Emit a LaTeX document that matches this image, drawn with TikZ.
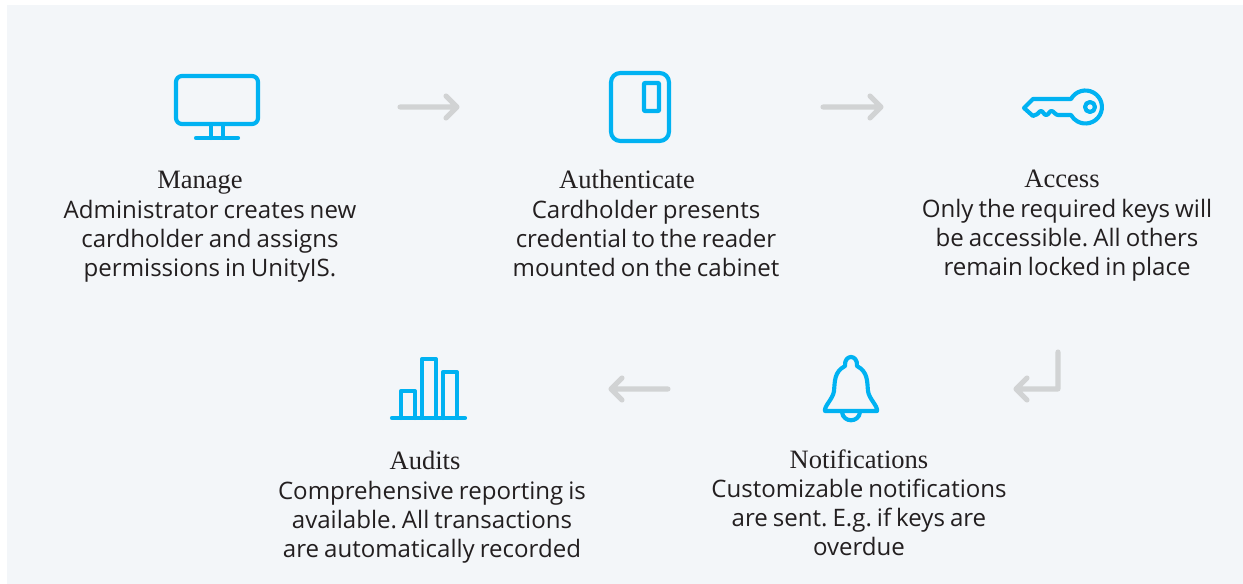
\documentclass[tikz,border=0pt]{standalone}
\usepackage{fontspec}
\setmainfont{Liberation Serif}
\newfontfamily\bodyfont[WordSpace=0.8]{Open Sans}
\definecolor{bgpanel}{HTML}{F3F6F9}
\definecolor{iconblue}{HTML}{00B2F2}
\definecolor{arrowgrey}{HTML}{D1D3D4}
\definecolor{inktext}{HTML}{231F20}
\tikzset{
 icon/.style={draw=iconblue,line width=3.1pt,line join=round,line cap=round},
 flow/.style={draw=arrowgrey,line width=3.8pt,line cap=round,line join=round},
 titletext/.style={font=\fontsize{19.9}{21}\selectfont,inner sep=0pt,text=inktext},
 bodytext/.style={font=\frenchspacing\bodyfont\fontsize{18.05}{21.75}\selectfont,align=center,inner sep=0pt,text=inktext},
}
\begin{document}
\begin{tikzpicture}[x=0.75pt,y=-0.75pt]
\useasboundingbox (0,0) rectangle (1243,584);
\fill[bgpanel] (7,5) rectangle (1243,584);
% monitor
\draw[icon,rounded corners=4.5pt] (176,76) rectangle (258,124);
\draw[icon] (211,126) -- (211,138) (223,126) -- (223,138) (196,138) -- (238,138);
% card
\draw[icon,rounded corners=7pt] (611,73) rectangle (669,141);
\draw[icon,rounded corners=0.5pt] (644,83) rectangle (659,111);
% key
\draw[icon] (1024,108) -- (1033,99) -- (1071,99) arc[start angle=-151,end angle=151,radius=16.5] -- (1058,115)
  .. controls (1055,115) and (1054,111) .. (1051.5,111) .. controls (1049,111) and (1049,115) .. (1046,115)
  .. controls (1044,115) and (1043,111) .. (1041,111) .. controls (1039,111) and (1038,115) .. (1035,115)
  -- (1033,116) -- cycle;
\draw[icon] (1090,107) circle[radius=5];
% bell
\draw[icon] (825,411) -- (877,411) .. controls (878,406) and (869,399) .. (868,391)
  .. controls (867,381) and (868,372) .. (857,366)
  .. controls (858,354) and (844,354) .. (845,366)
  .. controls (834,372) and (835,381) .. (834,391)
  .. controls (833,399) and (824,406) .. (825,411) -- cycle;
\draw[icon] (842,412) .. controls (843,423) and (859,423) .. (860,412);
% bars
\draw[icon] (392,418) -- (465,418);
\draw[icon] (401,418) -- (401,391) -- (415,391) -- (415,418);
\draw[icon] (422,418) -- (422,359) -- (436,359) -- (436,418);
\draw[icon] (443,418) -- (443,372) -- (457,372) -- (457,418);
% texts
\node[titletext] (t1) at (200,183) {Manage};
\node[bodytext] (b1) at (210,241) {Administrator creates new\\cardholder and assigns\\permissions in UnityIS.};
\node[titletext] (t2) at (627,179) {Authenticate};
\node[bodytext] (b2) at (646,238) {Cardholder presents\\credential to the reader\\mounted on the cabinet};
\node[titletext] (t3) at (1062,179) {Access};
\node[bodytext] (b3) at (1067,240) {Only the required keys will\\be accessible. All others\\remain locked in place};
\node[titletext] (t4) at (859,459) {Notifications};
\node[bodytext] (b4) at (859,517) {Customizable notifications\\are sent. E.g. if keys are\\overdue};
\node[titletext] (t5) at (425,460) {Audits};
\node[bodytext] (b5) at (432,522) {Comprehensive reporting is\\available. All transactions\\are automatically recorded};
% connectors
\coordinate (a1s) at (400,107); \coordinate (a1e) at (457,107);
\coordinate (a2s) at (823,107); \coordinate (a2e) at (881,107);
\coordinate (a3s) at (1058,352); \coordinate (a3m) at (1058,389); \coordinate (a3e) at (1016,389);
\coordinate (a4s) at (668,389); \coordinate (a4e) at (611,389);
\draw[flow] (a1s) -- (a1e) (446,96) -- (a1e) -- (446,118);
\draw[flow] (a2s) -- (a2e) (870,96) -- (a2e) -- (870,118);
\draw[flow] (a3s) -- (a3m) -- (a3e) (1027,378) -- (a3e) -- (1027,400);
\draw[flow] (a4s) -- (a4e) (622,378) -- (a4e) -- (622,400);
\end{tikzpicture}
\end{document}
